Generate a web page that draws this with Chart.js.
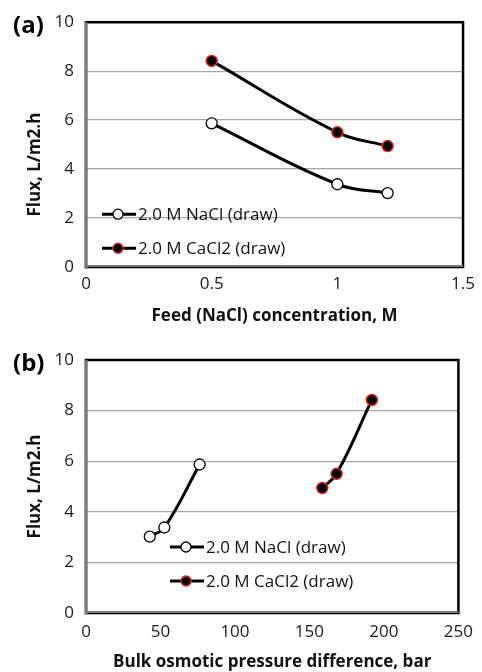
<!DOCTYPE html>
<html>
<head>
<meta charset="utf-8">
<script src="https://cdn.jsdelivr.net/npm/chart.js@4.4.1/dist/chart.umd.min.js"></script>
<style>
  body { margin: 0; background: #fff; }
  .p { position: relative; width: 482px; }
</style>
</head>
<body>
<div class="p" style="height:330px"><canvas id="ca" width="482" height="330"></canvas></div>
<div class="p" style="height:342px"><canvas id="cb" width="482" height="342"></canvas></div>
<script>
// data
var seriesNames = ["2.0 M NaCl (draw)", "2.0 M CaCl2 (draw)"];
var feedConc = [0.5, 1, 1.2];                 // M
var fluxNaCl = [5.87, 3.38, 3.02];            // L/m2.h
var fluxCaCl2 = [8.42, 5.5, 4.94];
var dPiNaCl = [76.3, 52.6, 42.8];             // bar
var dPiCaCl2 = [191.9, 168.2, 158.6];
var fluxTicks = [0, 2, 4, 6, 8, 10];
var concTicks = [0, 0.5, 1, 1.5];
var dPiTicks = [0, 50, 100, 150, 200, 250];
var yTitle = 'Flux, L/m2.h';

var FONT = "'Open Sans', sans-serif";

function pts(xs, ys) {
  var out = [];
  for (var i = 0; i < xs.length; i++) out.push({ x: xs[i], y: ys[i] });
  return out;
}

// plot frame + panel letter + y title + inner legend
var decor = {
  id: 'decor',
  beforeDatasetsDraw: function (chart) {
    var ctx = chart.ctx, a = chart.chartArea;
    ctx.save();
    ctx.strokeStyle = '#000';
    ctx.lineWidth = 2.5;
    ctx.strokeRect(a.left, a.top, a.right - a.left, a.bottom - a.top);
    ctx.strokeStyle = '#7a7a7a';
    ctx.lineWidth = 3;
    ctx.beginPath();
    ctx.moveTo(a.left, a.top); ctx.lineTo(a.left, a.bottom + 1.5);
    ctx.stroke();
    ctx.lineWidth = 2;
    ctx.beginPath();
    ctx.moveTo(a.left, a.bottom - 1); ctx.lineTo(a.right, a.bottom - 1);
    ctx.stroke();
    ctx.restore();
  },
  afterDraw: function (chart) {
    var ctx = chart.ctx, a = chart.chartArea, o = chart.options.plugins.decor;
    ctx.save();
    ctx.fillStyle = '#000';
    ctx.font = 'bold 24px ' + FONT;
    ctx.textBaseline = 'middle';
    ctx.textAlign = 'left';
    ctx.fillText(o.panel, o.px, o.py);

    // y title (excel put it a bit off-centre in panel a)
    ctx.save();
    ctx.fillStyle = '#111';
    ctx.font = 'bold 17px ' + FONT;
    ctx.textAlign = 'center';
    ctx.translate(35, (a.top + a.bottom) / 2 + o.ty);
    ctx.rotate(-Math.PI / 2);
    ctx.fillText(yTitle, 0, 0);
    ctx.restore();

    ctx.font = '17px ' + FONT;
    chart.data.datasets.forEach(function (ds, i) {
      var x = a.left + o.lx, y = a.top + o.ly + i * o.gap;
      ctx.strokeStyle = ds.borderColor;
      ctx.lineWidth = 3;
      ctx.beginPath(); ctx.moveTo(x, y); ctx.lineTo(x + 34, y); ctx.stroke();
      ctx.beginPath(); ctx.arc(x + 16, y, 5, 0, Math.PI * 2);
      ctx.fillStyle = ds.pointBackgroundColor; ctx.fill();
      ctx.lineWidth = ds.pointBorderWidth;
      ctx.strokeStyle = ds.pointBorderColor; ctx.stroke();
      ctx.fillStyle = '#111';
      ctx.fillText(ds.label, x + 36, y + 1);
    });
    ctx.restore();
  }
};

function plain(v) { return String(v); }

function makeChart(id, x1, x2, xTicks, xTitle, cfg) {
  var ctx = document.getElementById(id).getContext('2d');
  return new Chart(ctx, {
    type: 'line',
    data: {
      datasets: [{
        label: seriesNames[0],
        data: pts(x1, fluxNaCl),
        borderColor: '#000', borderWidth: 3, tension: 0.4,
        pointRadius: 5.5, pointBackgroundColor: '#fff',
        pointBorderColor: '#000', pointBorderWidth: 1.3
      }, {
        label: seriesNames[1],
        data: pts(x2, fluxCaCl2),
        borderColor: '#000', borderWidth: 3, tension: 0.4,
        pointRadius: 5.5, pointBackgroundColor: '#000',
        pointBorderColor: '#e02424', pointBorderWidth: 1.5
      }]
    },
    options: {
      responsive: false,
      animation: false,
      layout: { padding: { top: cfg.top, right: 16, bottom: 0, left: 0 } },
      plugins: {
        legend: { display: false },
        tooltip: { enabled: false },
        decor: cfg.decor
      },
      scales: {
        x: {
          type: 'linear',
          min: xTicks[0], max: xTicks[xTicks.length - 1],
          afterBuildTicks: function (s) { s.ticks = xTicks.map(function (v) { return { value: v }; }); },
          afterFit: function (s) { s.height = cfg.xh; },
          grid: { display: false, drawTicks: false },
          border: { display: false },
          ticks: { color: '#1a1a1a', padding: cfg.xpad, maxRotation: 0, callback: plain,
                   font: { family: FONT, size: 17 } },
          title: { display: true, text: xTitle, color: '#111', padding: { top: 0, bottom: cfg.tpad },
                   font: { family: FONT, size: 17, weight: 'bold' } }
        },
        y: {
          min: 0, max: 10,
          afterBuildTicks: function (s) { s.ticks = fluxTicks.map(function (v) { return { value: v }; }); },
          afterFit: function (s) { s.width = 86; },
          grid: { color: '#a6a6a6', lineWidth: 1.3, drawTicks: false },
          border: { display: false },
          ticks: { color: '#1a1a1a', padding: 12, callback: plain, font: { family: FONT, size: 17 } }
        }
      }
    },
    plugins: [decor]
  });
}

makeChart('ca', feedConc, feedConc, concTicks, 'Feed (NaCl) concentration, M', {
  top: 17, xh: 63, xpad: 7, tpad: 4,
  decor: { panel: '(a)', px: 13, py: 26, ty: 20, lx: 16, ly: 192, gap: 34 }
});
makeChart('cb', dPiNaCl, dPiCaCl2, dPiTicks, 'Bulk osmotic pressure difference, bar', {
  top: 30, xh: 59, xpad: 9, tpad: 0,
  decor: { panel: '(b)', px: 13, py: 34, ty: 0, lx: 84, ly: 187, gap: 34 }
});
</script>
</body>
</html>
